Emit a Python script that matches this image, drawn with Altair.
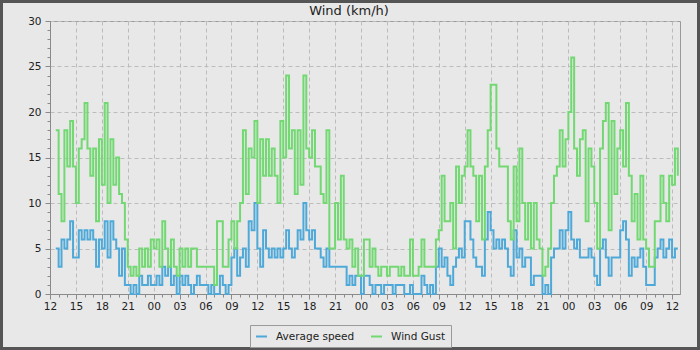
import altair as alt
import pandas as pd

# ---- data (km/h), sampled every 20 min starting 12:40 ----
TITLE = "Wind (km/h)"
START_CLOCK_HOUR = 12      # clock hour at x = 0
FIRST_SAMPLE_H = 2 / 3     # first reading, hours after start
STEP_H = 1 / 3             # sampling interval, hours

gust = (
    [18, 11, 8, 18, 14, 19, 14, 10, 16, 17, 21, 16, 13, 16, 8, 17, 12, 21, 10, 17, 12, 15, 11, 10, 6]
    + [3, 2, 3, 2, 5, 3, 5, 3, 6, 5, 6, 3, 8, 5, 3, 6, 3, 2, 5, 3, 5, 3, 5, 5, 3, 3, 3]
    + [3, 3, 3, 1, 8, 8, 3, 3, 6, 8, 5, 8, 10, 18, 11, 16, 15, 19, 10, 17, 13, 17, 13, 16, 13, 10, 19, 15, 24]
    + [16, 18, 11, 18, 12, 24, 16, 15, 18, 14, 14, 11, 10, 18, 5, 5, 10, 6, 13, 6, 5, 6, 3, 5, 2, 2, 6]
    + [6, 3, 5, 3, 2, 3, 3, 2, 3, 3, 3, 2, 3, 2, 2, 6, 2, 2, 3, 6, 3, 3, 3, 3, 6, 7, 13, 8]
    + [8, 10, 5, 14, 10, 13, 14, 18, 14, 13, 8, 13, 6, 14, 18, 23, 23, 16, 14, 14, 14, 8, 6, 14, 8, 16, 10, 6]
    + [10, 5, 10, 6, 5, 2, 3, 5, 10, 13, 14, 18, 14, 17, 20, 26, 16, 13, 17, 18, 8, 16, 14, 10, 5, 16, 19, 21]
    + [7, 19, 11, 16, 18, 14, 21, 13, 8, 11, 6, 13, 6, 5, 3, 3, 8, 8, 13, 10, 8, 13, 12, 16, 13]
)
avg = (
    [5, 3, 6, 5, 6, 8, 4, 4, 7, 6, 7, 6, 7, 6, 3, 6, 5, 8, 4, 8, 6, 5, 2, 5, 1]
    + [1, 0, 1, 0, 2, 1, 1, 2, 1, 1, 2, 1, 3, 2, 3, 1, 2, 0, 2, 1, 2, 1, 0, 1, 2, 1, 1]
    + [1, 0, 1, 0, 0, 2, 1, 0, 1, 4, 5, 2, 4, 5, 3, 8, 7, 10, 5, 3, 7, 5, 4, 5, 4, 5, 4, 5, 7]
    + [5, 4, 5, 7, 6, 10, 7, 6, 7, 5, 5, 4, 3, 5, 3, 3, 3, 3, 3, 3, 1, 2, 1, 2, 2, 0, 2]
    + [2, 1, 0, 1, 1, 0, 1, 1, 1, 0, 1, 1, 1, 0, 0, 1, 0, 0, 0, 2, 1, 0, 1, 0, 3, 5, 3, 4]
    + [2, 1, 3, 4, 5, 4, 8, 8, 6, 4, 3, 3, 2, 6, 9, 7, 5, 6, 5, 6, 5, 3, 2, 7, 4, 5, 3, 4]
    + [4, 1, 2, 2, 2, 0, 1, 0, 4, 5, 5, 7, 5, 7, 9, 6, 5, 6, 4, 4, 4, 5, 4, 2, 1, 5, 6, 4]
    + [2, 4, 4, 4, 7, 8, 6, 2, 4, 3, 4, 5, 3, 1, 1, 1, 4, 5, 6, 4, 5, 6, 4, 5, 5]
)
series_names = ["Average speed", "Wind Gust"]
series_colors = ["#4fa9d8", "#72d872"]
x_ticks = list(range(0, 73))
y_ticks = list(range(0, 31))

n = len(gust)
hours = [FIRST_SAMPLE_H + i * STEP_H for i in range(n)]
df = pd.DataFrame({
    "h": hours + hours,
    "v": avg + gust,
    "series": [series_names[0]] * n + [series_names[1]] * n,
})

BG = "#e8e8e8"
LBL = "#222222"
AX = "#8a8a8a"
GRID = "#bcbcbc"
FS = 10.5

major_x = "datum.value % 3 === 0"
major_y = "datum.value % 5 === 0"

x_axis = alt.Axis(
    values=x_ticks,
    labelExpr=f"{major_x} ? format((datum.value + {START_CLOCK_HOUR}) % 24, '02d') : ''",
    tickSize={"condition": {"test": major_x, "value": 5}, "value": 3},
    gridOpacity={"condition": {"test": major_x, "value": 1}, "value": 0},
    gridDash=[4, 3], gridColor=GRID, domainColor=AX, tickColor=AX,
    labelColor=LBL, labelFontSize=FS, labelOverlap=False, labelFlush=False,
    labelPadding=2, title=None,
)
y_axis = alt.Axis(
    values=y_ticks,
    labelExpr=f"{major_y} ? datum.label : ''",
    tickSize={"condition": {"test": major_y, "value": 5}, "value": 3},
    gridOpacity={"condition": {"test": major_y, "value": 1}, "value": 0},
    gridDash=[4, 3], gridColor=GRID, domainColor=AX, tickColor=AX,
    labelColor=LBL, labelFontSize=FS, labelOverlap=False, labelFlush=False,
    labelPadding=4, title=None,
)

lines = alt.Chart(df).mark_line(interpolate="step-after", strokeWidth=2).encode(
    x=alt.X("h:Q", scale=alt.Scale(domain=[0, 72.92], nice=False, zero=False), axis=x_axis),
    y=alt.Y("v:Q", scale=alt.Scale(domain=[0, 30], nice=False), axis=y_axis),
    color=alt.Color(
        "series:N",
        scale=alt.Scale(domain=series_names, range=series_colors),
        legend=alt.Legend(
            title=None, orient="none", legendX=200, legendY=304, direction="horizontal",
            strokeColor="#9a9a9a", fillColor=BG, padding=5, symbolType="stroke",
            symbolStrokeWidth=2, symbolSize=121, labelFontSize=FS, labelColor=LBL,
            labelOffset=8, columnPadding=12,
        ),
    ),
    order=alt.Order("h:Q"),
)

title = alt.Chart(pd.DataFrame({"t": [TITLE]})).mark_text(
    fontSize=13, color=LBL, align="center", baseline="alphabetic"
).encode(text="t:N", x=alt.value(299), y=alt.value(-6))

frame = alt.Chart(pd.DataFrame({"k": [0]})).mark_rect(
    fill=None, stroke="#555555", strokeWidth=3
).encode(
    x=alt.value(-48.5), x2=alt.value(648.5), y=alt.value(-19.5), y2=alt.value(327.5)
)

chart = alt.layer(lines, title, frame).properties(
    width=630, height=273,
    background=BG,
    padding={"left": 50, "top": 21, "right": 20, "bottom": 56},
    autosize=alt.AutoSizeParams(type="none"),
).configure(font="DejaVu Sans").configure_view(stroke="#9a9a9a", strokeWidth=1, fill=BG)

chart.save("out.html", embed_options={"renderer": "svg", "actions": False})
